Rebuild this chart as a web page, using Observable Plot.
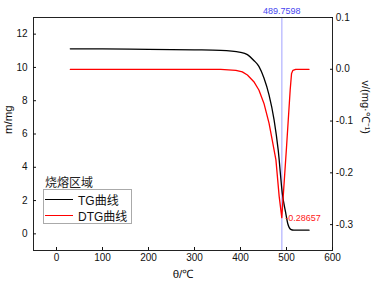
<!DOCTYPE html>
<html><head><meta charset="utf-8">
<script src="https://cdn.jsdelivr.net/npm/d3@7"></script>
<script src="https://cdn.jsdelivr.net/npm/@observablehq/plot@0.6"></script>
<style>
body{margin:0;background:#fff;font-family:"Liberation Sans",Arial,sans-serif}
#wrap{position:relative;width:373px;height:285px;overflow:hidden}
#legend-title{position:absolute;left:45px;top:174px;font:12px "Noto Sans CJK SC",sans-serif;color:#222;line-height:16px;white-space:nowrap}
#legend-box{position:absolute;left:43px;top:189px;width:87px;height:33px;border:1px solid #aaa;background:#fff}
.row{position:absolute;left:1px;height:16px;display:flex;align-items:center;white-space:nowrap;font:12px "Liberation Sans","Noto Sans CJK SC",sans-serif;color:#111}
.sw{width:28px;height:0;border-top:1.6px solid;margin-right:5px}
</style></head><body><div id="wrap"></div>
<script>
// TG curve (left axis, m/mg)
const tgTemp = [30, 100, 200, 300, 357, 400, 415, 429, 440, 451, 462, 473, 482, 491, 498, 503, 509, 516, 549];
const tgMass = [11.12, 11.11, 11.09, 11.06, 11.03, 10.91, 10.77, 10.42, 10.06, 9.36, 8.35, 6.85, 5.03, 2.41, 1.3, 0.59, 0.27, 0.22, 0.22];
// DTG curve (right axis, v/(mg·℃-1))
const dtgTemp = [30, 200, 357, 390, 404, 415, 429, 440, 451, 462, 469, 477, 484, 489.7598, 500, 508, 511, 514, 520, 549];
const dtgRate = [0, 0, 0, -0.002, -0.005, -0.011, -0.024, -0.040, -0.066, -0.104, -0.137, -0.175, -0.245, -0.28657, -0.151, -0.04, -0.008, -0.002, 0, 0];
const peakTemp = 489.7598;
const peakRate = -0.28657;
const xTicks = [0, 100, 200, 300, 400, 500, 600];
const leftTicks = [0, 2, 4, 6, 8, 10, 12];
const rightTicks = [-0.3, -0.2, -0.1, 0.0, 0.1];
const xDomain = [-50, 600];
const leftDomain = [-1, 13];
const rightDomain = [-0.35, 0.1];
const seriesNames = ["TG曲线", "DTG曲线"];
const legendTitle = "烧熔区域";

const toLeft = d3.scaleLinear(rightDomain, leftDomain);
const tg = tgTemp.map((t, i) => ({t, m: tgMass[i]}));
const dtg = dtgTemp.map((t, i) => ({t, v: dtgRate[i]}));
const fmtR = d => { let v = Math.round(toLeft.invert(d) * 10) / 10; if (v === 0) v = 0; return v.toFixed(1); };

const chart = Plot.plot({
  width: 373, height: 285,
  marginLeft: 33, marginRight: 41, marginTop: 17, marginBottom: 35,
  x: {domain: xDomain},
  y: {domain: leftDomain},
  style: {fontFamily: "Liberation Sans, Arial, sans-serif", fontSize: "10px", color: "#111", background: "white"},
  marks: [
    Plot.ruleX([peakTemp], {stroke: "#c4c4ff", strokeWidth: 1.6}),
    Plot.line(tg, {x: "t", y: "m", stroke: "#000", strokeWidth: 1.3, curve: "monotone-x"}),
    Plot.line(dtg, {x: "t", y: d => toLeft(d.v), stroke: "#ff0000", strokeWidth: 1.3}),
    Plot.frame({stroke: "#222", strokeWidth: 1}),
    Plot.axisX(xTicks, {anchor: "bottom", tickSize: -3, tickPadding: 6.5, label: null, fontSize: 10}),
    Plot.axisY(leftTicks, {anchor: "left", tickSize: -3, tickPadding: 9, label: null, fontSize: 10}),
    Plot.axisY(rightTicks.map(v => toLeft(v)), {anchor: "right", tickSize: -3, tickPadding: 6.3, tickFormat: fmtR, label: null, fontSize: 10}),
    Plot.text([peakTemp], {x: d => d, frameAnchor: "top", dy: -10, text: d => String(d), fill: "#4646f0", fontSize: 9}),
    Plot.text([{t: peakTemp, v: peakRate}], {x: "t", y: d => toLeft(d.v), text: d => String(d.v), dx: 3.5, textAnchor: "start", fill: "#ff2020", fontSize: 9}),
    Plot.text(["m/mg"], {frameAnchor: "left", rotate: -90, dx: -25, fontSize: 11.5}),
    Plot.text(["v/(mg·℃⁻¹)"], {frameAnchor: "right", rotate: 90, dx: 33, fontSize: 11}),
    Plot.text(["θ/℃"], {frameAnchor: "bottom", dy: 27, fontSize: 11.5})
  ]
});
const wrap = document.getElementById("wrap");
wrap.appendChild(chart);

const title = document.createElement("div");
title.id = "legend-title"; title.textContent = legendTitle;
wrap.appendChild(title);
const box = document.createElement("div");
box.id = "legend-box";
const colors = ["#000", "#ff0000"];
seriesNames.forEach((name, i) => {
  const row = document.createElement("div");
  row.className = "row";
  row.style.top = (1 + i * 16.5) + "px";
  const sw = document.createElement("div");
  sw.className = "sw"; sw.style.borderTopColor = colors[i];
  const tx = document.createElement("span"); tx.textContent = name;
  row.appendChild(sw); row.appendChild(tx);
  box.appendChild(row);
});
wrap.appendChild(box);
</script></body></html>
